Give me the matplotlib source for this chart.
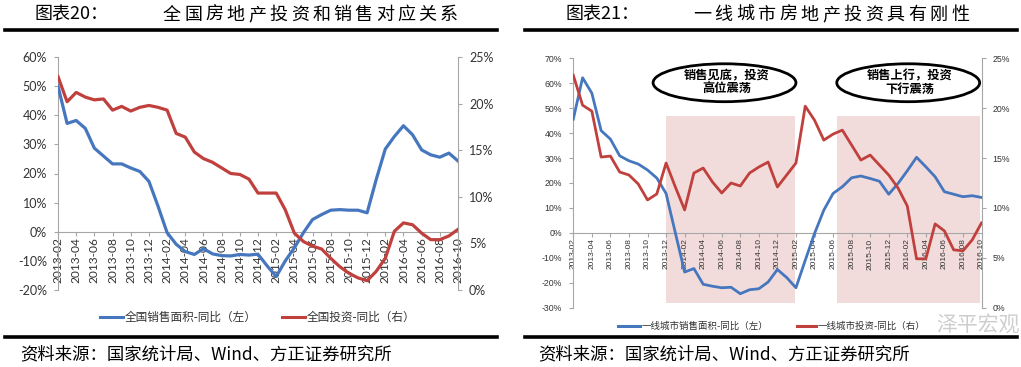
import matplotlib
matplotlib.use('Agg')
import matplotlib.pyplot as plt
from matplotlib.patches import Ellipse, Rectangle
from matplotlib.lines import Line2D
from matplotlib.ticker import FuncFormatter
import pandas as pd

plt.rcParams['font.family'] = ['Noto Sans CJK SC', 'DejaVu Sans']

# ---------------- data ----------------
months = list(pd.period_range('2013-02', '2016-10', freq='M').strftime('%Y-%m'))
tick_labels = months[::2]

# Chart 20: national
nat_sales = [50.0, 37.2, 38.2, 35.5, 28.7, 26.0, 23.3, 23.3, 21.9, 20.7, 17.3, 8.8,
             -0.3, -4.3, -6.8, -7.8, -5.8, -7.6, -8.2, -8.3, -7.8, -8.0, -7.7,
             -11.7, -15.4, -10.0, -5.5, -0.3, 4.2, 5.9, 7.4, 7.6, 7.4, 7.4, 6.5,
             17.9, 28.4, 32.7, 36.4, 33.3, 28.1, 26.4, 25.6, 27.0, 24.3]
nat_inv = [22.9, 20.2, 21.2, 20.7, 20.4, 20.5, 19.3, 19.7, 19.2, 19.6, 19.8, 19.6,
           19.3, 16.8, 16.4, 14.8, 14.1, 13.7, 13.1, 12.5, 12.4, 11.9, 10.4,
           10.4, 10.4, 8.6, 6.1, 5.2, 4.7, 4.4, 3.4, 2.5, 1.8, 1.3, 1.0,
           2.0, 3.4, 6.3, 7.2, 7.0, 6.1, 5.4, 5.4, 5.8, 6.5]

# Chart 21: tier-1 cities
t1_sales = [45.6, 62.2, 56.0, 41.0, 37.6, 30.9, 28.9, 27.6, 25.2, 22.0, 15.8, 0.0,
            -15.7, -14.3, -20.6, -21.4, -22.0, -21.8, -24.4, -22.8, -22.4, -19.7, -14.7,
            -17.9, -22.0, -11.0, -0.3, 9.1, 15.8, 18.5, 22.1, 22.8, 21.8, 20.7, 15.5,
            19.8, 24.9, 30.3, 26.5, 22.5, 16.5, 15.5, 14.5, 14.9, 14.2]
t1_inv = [23.3, 20.3, 19.7, 15.1, 15.2, 13.6, 13.3, 12.4, 10.8, 11.4, 14.5, 12.1,
          9.8, 13.5, 14.0, 12.6, 11.5, 12.5, 12.2, 13.5, 14.1, 14.6, 12.1,
          13.3, 14.5, 20.2, 18.8, 16.8, 17.4, 17.8, 16.3, 14.8, 15.3, 14.3, 13.3,
          12.0, 10.2, 4.9, 4.9, 8.4, 7.7, 5.8, 5.7, 6.8, 8.5]

shade_periods = [('2013-12', '2015-02'), ('2015-06', '2016-10')]
shade_notes = ['销售见底，投资\n高位震荡', '销售上行，投资\n下行震荡']

title_left_no = '图表20：'
title_left = '全国房地产投资和销售对应关系'
title_right_no = '图表21：'
title_right = '一线城市房地产投资具有刚性'
legend_left = ['全国销售面积-同比（左）', '全国投资-同比（右）']
legend_right = ['一线城市销售面积-同比（左）', '一线城市投资-同比（右）']
source = '资料来源：国家统计局、Wind、方正证券研究所'
watermark = '泽平宏观'

BLUE = '#4677be'
RED = '#c0403d'
SHADE = '#f2dcdb'
SPINE = '#a6a6a6'
TXT = '#333333'

W, H = 1021, 367
fig = plt.figure(figsize=(W / 100, H / 100), dpi=100)


def fx(px):
    return px / W


def fy(py):
    return 1 - py / H


pct = FuncFormatter(lambda v, p: f'{v:.0f}%')
x = list(range(len(months)))


def style_axes(ax, ax2, fs_y, fs_x, lab_font):
    for a in (ax, ax2):
        a.spines['top'].set_visible(False)
        a.patch.set_visible(False)
    ax.spines['right'].set_visible(False)
    ax2.spines['left'].set_visible(False)
    ax2.spines['bottom'].set_visible(False)
    ax.spines['left'].set_color(SPINE)
    ax2.spines['right'].set_color(SPINE)
    ax.spines['bottom'].set_color(SPINE)
    ax.spines['bottom'].set_position(('data', 0))
    ax.yaxis.set_major_formatter(pct)
    ax2.yaxis.set_major_formatter(pct)
    ax.tick_params(axis='y', colors=SPINE, labelcolor=TXT, labelsize=fs_y, length=3, pad=5)
    ax2.tick_params(axis='y', colors=SPINE, labelcolor=TXT, labelsize=fs_y, length=3, pad=5)
    ax.tick_params(axis='x', colors=SPINE, labelcolor=TXT, labelsize=fs_x, length=3, pad=1)
    ax.set_xticks(x[::2])
    ax.set_xticklabels(tick_labels, rotation=90, family=lab_font)
    for t in ax.get_yticklabels() + ax2.get_yticklabels():
        t.set_family(lab_font)
    ax.set_xlim(0, len(months) - 1)
    ax2.set_xlim(0, len(months) - 1)


# ---------------- left chart ----------------
axL = fig.add_axes([fx(58), fy(290), fx(458) - fx(58), fy(57) - fy(290)])
axL2 = axL.twinx()
axL.plot(x, nat_sales, color=BLUE, lw=2.3, zorder=3)
axL2.plot(x, nat_inv, color=RED, lw=2.3, zorder=3)
axL.set_ylim(-20, 60)
axL.set_yticks(range(-20, 61, 10))
axL2.set_ylim(0, 25)
axL2.set_yticks(range(0, 26, 5))
style_axes(axL, axL2, 9, 8.6, 'Lato')

# ---------------- right chart ----------------
axR = fig.add_axes([fx(573.3), fy(307.7), fx(981.5) - fx(573.3), fy(58.3) - fy(307.7)])
axR2 = axR.twinx()
axR.set_ylim(-30, 70)
axR.set_yticks(range(-30, 71, 10))
axR2.set_ylim(0, 25)
axR2.set_yticks(range(0, 26, 5))
style_axes(axR, axR2, 6.3, 6.0, 'Liberation Sans')

offsets = [(0.0, -0.1), (0.4, -0.2)]
for (s, e), (o1, o2) in zip(shade_periods, offsets):
    i0 = months.index(s) + o1
    i1 = months.index(e) + o2
    axR.add_patch(Rectangle((i0, -28), i1 - i0, 75, facecolor=SHADE, edgecolor='none', zorder=0))

axR.plot(x, t1_sales, color=BLUE, lw=2.0, zorder=3)
axR2.plot(x, t1_inv, color=RED, lw=2.0, zorder=3)

ell_centers = [16.3, 36.1]
for cx, note in zip(ell_centers, shade_notes):
    axR.add_patch(Ellipse((cx, 60.2), 15.4, 15.2, facecolor='white', edgecolor='black',
                          lw=2.0, clip_on=False, zorder=5))
    axR.text(cx + 0.2, 60.2, note, ha='center', va='center', fontsize=8.8, weight='bold',
             linespacing=1.0, zorder=6)

# ---------------- titles & rules ----------------
def spaced(text, x0, y, pitch, fs, **kw):
    for i, ch in enumerate(text):
        fig.text(fx(x0 + i * pitch), fy(y), ch, fontsize=fs, ha='left', va='center', **kw)


fig.text(fx(35), fy(15), title_left_no, fontsize=13, ha='left', va='center', color='black')
spaced(title_left, 163, 15, 21.3, 13, color='black')
fig.text(fx(565), fy(15), title_right_no, fontsize=13, ha='left', va='center', color='black')
spaced(title_right, 693, 15, 21.5, 13, color='black')

for x0, x1 in ((5, 497), (525, 1017)):
    fig.add_artist(Line2D([fx(x0), fx(x1)], [fy(29.5), fy(29.5)], color='black', lw=2.6))
    fig.add_artist(Line2D([fx(x0), fx(x1)], [fy(336.5), fy(336.5)], color='black', lw=2.6))

# sources
fig.text(fx(20), fy(354), source, fontsize=12.5, ha='left', va='center', color='black')
fig.text(fx(538), fy(354), source, fontsize=12.5, ha='left', va='center', color='black')

# ---------------- legends ----------------
def legend_item(x0, x1, y, color, label, fs):
    fig.add_artist(Line2D([fx(x0), fx(x1)], [fy(y), fy(y)], color=color, lw=2.2))
    fig.text(fx(x1 + 2), fy(y), label, fontsize=fs, ha='left', va='center', color=TXT)


legend_item(100, 123, 317, BLUE, legend_left[0], 8.4)
legend_item(282, 305, 317, RED, legend_left[1], 8.4)
legend_item(618, 640, 326, BLUE, legend_right[0], 6.8)
legend_item(797, 816, 326, RED, legend_right[1], 6.8)

# watermark
fig.text(fx(936), fy(326), watermark, fontsize=15, ha='left', va='center',
         color='#c8c8c8', alpha=0.9, zorder=10)

fig.savefig('out.png', dpi=100)
